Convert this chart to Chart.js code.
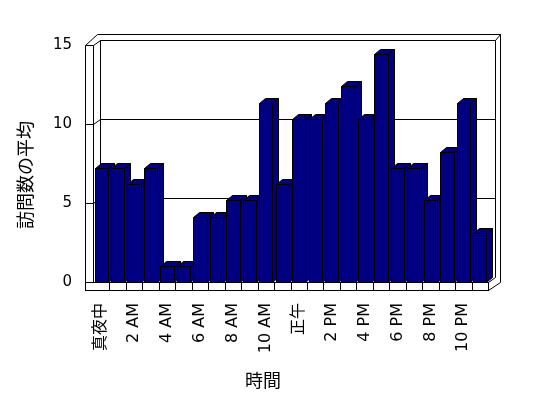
<!DOCTYPE html>
<html>
<head>
<meta charset="utf-8">
<script src="https://cdn.jsdelivr.net/npm/chart.js@4.4.1/dist/chart.umd.min.js"></script>
<style>
  html, body { margin: 0; padding: 0; background: #fff; }
  #wrap { width: 548px; height: 398px; }
</style>
</head>
<body>
<div id="wrap"><canvas id="chart"></canvas></div>
<script>
// データ
const hours = ['0','1','2','3','4','5','6','7','8','9','10','11',
               '12','13','14','15','16','17','18','19','20','21','22','23'];
const tickLabels = ['真夜中','','2 AM','','4 AM','','6 AM','','8 AM','','10 AM','',
                    '正午','','2 PM','','4 PM','','6 PM','','8 PM','','10 PM',''];
const avgVisits = [7.2, 7.2, 6.2, 7.2, 1.0, 1.0, 4.1, 4.1, 5.2, 5.2, 11.3, 6.2,
                   10.3, 10.3, 11.3, 12.4, 10.3, 14.4, 7.2, 7.2, 5.2, 8.2, 11.3, 3.1];
const yTicks = [0, 5, 10, 15];
const xTitle = '時間';
const yTitle = '訪問数の平均';

const FONT = "'DejaVu Sans', 'Noto Sans CJK JP', sans-serif";
Chart.defaults.font.family = FONT;
Chart.defaults.color = '#000';

const BAR_FILL = '#000080';
const WALL = { dx: 7, dy: -5 };   // 奥行き（壁）
const BAR = { dx: 6, dy: -5 };    // 奥行き（棒）

function line(ctx, pts) {
  ctx.beginPath();
  ctx.moveTo(pts[0][0], pts[0][1]);
  for (let i = 1; i < pts.length; i++) ctx.lineTo(pts[i][0], pts[i][1]);
  ctx.stroke();
}

// 3D風の箱（壁・床）と棒を描く
const box3d = {
  id: 'box3d',
  beforeDatasetsDraw(chart) {
    const ctx = chart.ctx, ca = chart.chartArea, ys = chart.scales.y, xs = chart.scales.x;
    const L = Math.round(ca.left) + 0.5, R = Math.round(ca.right) + 0.5;
    const T = Math.round(ca.top) + 0.5, B = Math.round(ca.bottom) + 0.5;
    const FL = L - 8;           // 左壁の前面
    const FB = B + 8;           // 床の前面下端
    ctx.save();
    ctx.strokeStyle = '#000';
    ctx.lineWidth = 1;
    ctx.fillStyle = '#fff';

    // 奥の壁
    ctx.fillRect(L + WALL.dx, T + WALL.dy, R - L, B - T);
    line(ctx, [[L + WALL.dx, B + WALL.dy], [L + WALL.dx, T + WALL.dy], [R + WALL.dx, T + WALL.dy], [R + WALL.dx, B + WALL.dy]]);
    // 壁の外側
    line(ctx, [[FL, T], [FL + 12, T - 11], [R + WALL.dx + 5, T - 11], [R + WALL.dx + 5, B]]);
    line(ctx, [[R + WALL.dx, T + WALL.dy], [R + WALL.dx + 5, T - 11]]);
    line(ctx, [[L, T], [L + WALL.dx, T + WALL.dy]]);

    // 目盛り線（奥の壁と左の壁）
    yTicks.forEach(v => {
      const y = Math.round(ys.getPixelForValue(v)) + 0.5;
      if (v > 0 && v < ys.max) {
        line(ctx, [[FL, y], [L, y], [L + WALL.dx, y + WALL.dy], [R + WALL.dx, y + WALL.dy]]);
      } else if (v === ys.max) {
        line(ctx, [[FL, y], [L, y]]);
      }
    });

    // 左の壁の前面
    line(ctx, [[FL, T], [FL, FB]]);
    line(ctx, [[L, T], [L, B]]);

    // 床の前面
    ctx.fillRect(FL, B, R - FL, FB - B);
    ctx.strokeRect(FL, B, R - FL, FB - B);
    for (let i = 1; i < hours.length; i++) {
      const x = Math.round((xs.getPixelForValue(i - 1) + xs.getPixelForValue(i)) / 2) + 0.5;
      line(ctx, [[x, B], [x, FB]]);
    }
    // 床の右側
    line(ctx, [[R, FB], [R + WALL.dx + 5, B]]);
    line(ctx, [[R, B], [R + WALL.dx, B + WALL.dy]]);
    ctx.restore();
  },
  afterDatasetsDraw(chart) {
    const ctx = chart.ctx;
    const meta = chart.getDatasetMeta(0);
    ctx.save();
    ctx.strokeStyle = '#000';
    ctx.lineWidth = 1;
    ctx.fillStyle = BAR_FILL;
    meta.data.forEach(el => {
      const p = el.getProps(['x', 'y', 'base', 'width'], true);
      const x0 = Math.round(p.x - p.width / 2) + 0.5;
      const x1 = Math.round(p.x + p.width / 2) + 0.5;
      const top = Math.round(p.y) + 0.5, bot = Math.round(p.base) + 0.5;
      const faces = [
        [[x0, bot], [x0, top], [x1, top], [x1, bot]],
        [[x1, bot], [x1, top], [x1 + BAR.dx, top + BAR.dy], [x1 + BAR.dx, bot + BAR.dy]],
        [[x0, top], [x0 + BAR.dx, top + BAR.dy], [x1 + BAR.dx, top + BAR.dy], [x1, top]]
      ];
      faces.forEach(f => {
        ctx.beginPath();
        ctx.moveTo(f[0][0], f[0][1]);
        for (let i = 1; i < f.length; i++) ctx.lineTo(f[i][0], f[i][1]);
        ctx.closePath();
        ctx.fill();
        ctx.stroke();
      });
    });
    ctx.restore();
  },
  afterDraw(chart) {
    const ctx = chart.ctx;
    ctx.save();
    ctx.fillStyle = '#000';
    ctx.font = '18px ' + FONT;
    ctx.textAlign = 'center';
    ctx.textBaseline = 'middle';
    ctx.fillText(xTitle, 263, 382);
    ctx.translate(27, 175);
    ctx.rotate(-Math.PI / 2);
    ctx.fillText(yTitle, 0, 0);
    ctx.restore();
  }
};

new Chart(document.getElementById('chart'), {
  type: 'bar',
  data: {
    labels: hours,
    datasets: [{
      data: avgVisits,
      backgroundColor: 'rgba(0,0,0,0)',
      borderWidth: 0,
      categoryPercentage: 1.0,
      barPercentage: 0.81
    }]
  },
  options: {
    responsive: true,
    maintainAspectRatio: false,
    animation: false,
    layout: { padding: { top: 45, right: 60, left: 0, bottom: 0 } },
    plugins: { legend: { display: false }, tooltip: { enabled: false } },
    scales: {
      x: {
        grid: { display: false, drawTicks: false },
        border: { display: false },
        ticks: {
          autoSkip: false,
          minRotation: 90,
          maxRotation: 90,
          padding: 21,
          font: { size: 16 },
          callback: (v, i) => tickLabels[i]
        },
        afterFit: s => { s.height = 116; }
      },
      y: {
        min: 0,
        max: 15,
        grid: { display: false, drawTicks: false },
        border: { display: false },
        ticks: {
          stepSize: 5,
          padding: 21,
          font: { size: 15 }
        },
        afterFit: s => { s.width = 93; }
      }
    }
  },
  plugins: [box3d]
});
</script>
</body>
</html>
